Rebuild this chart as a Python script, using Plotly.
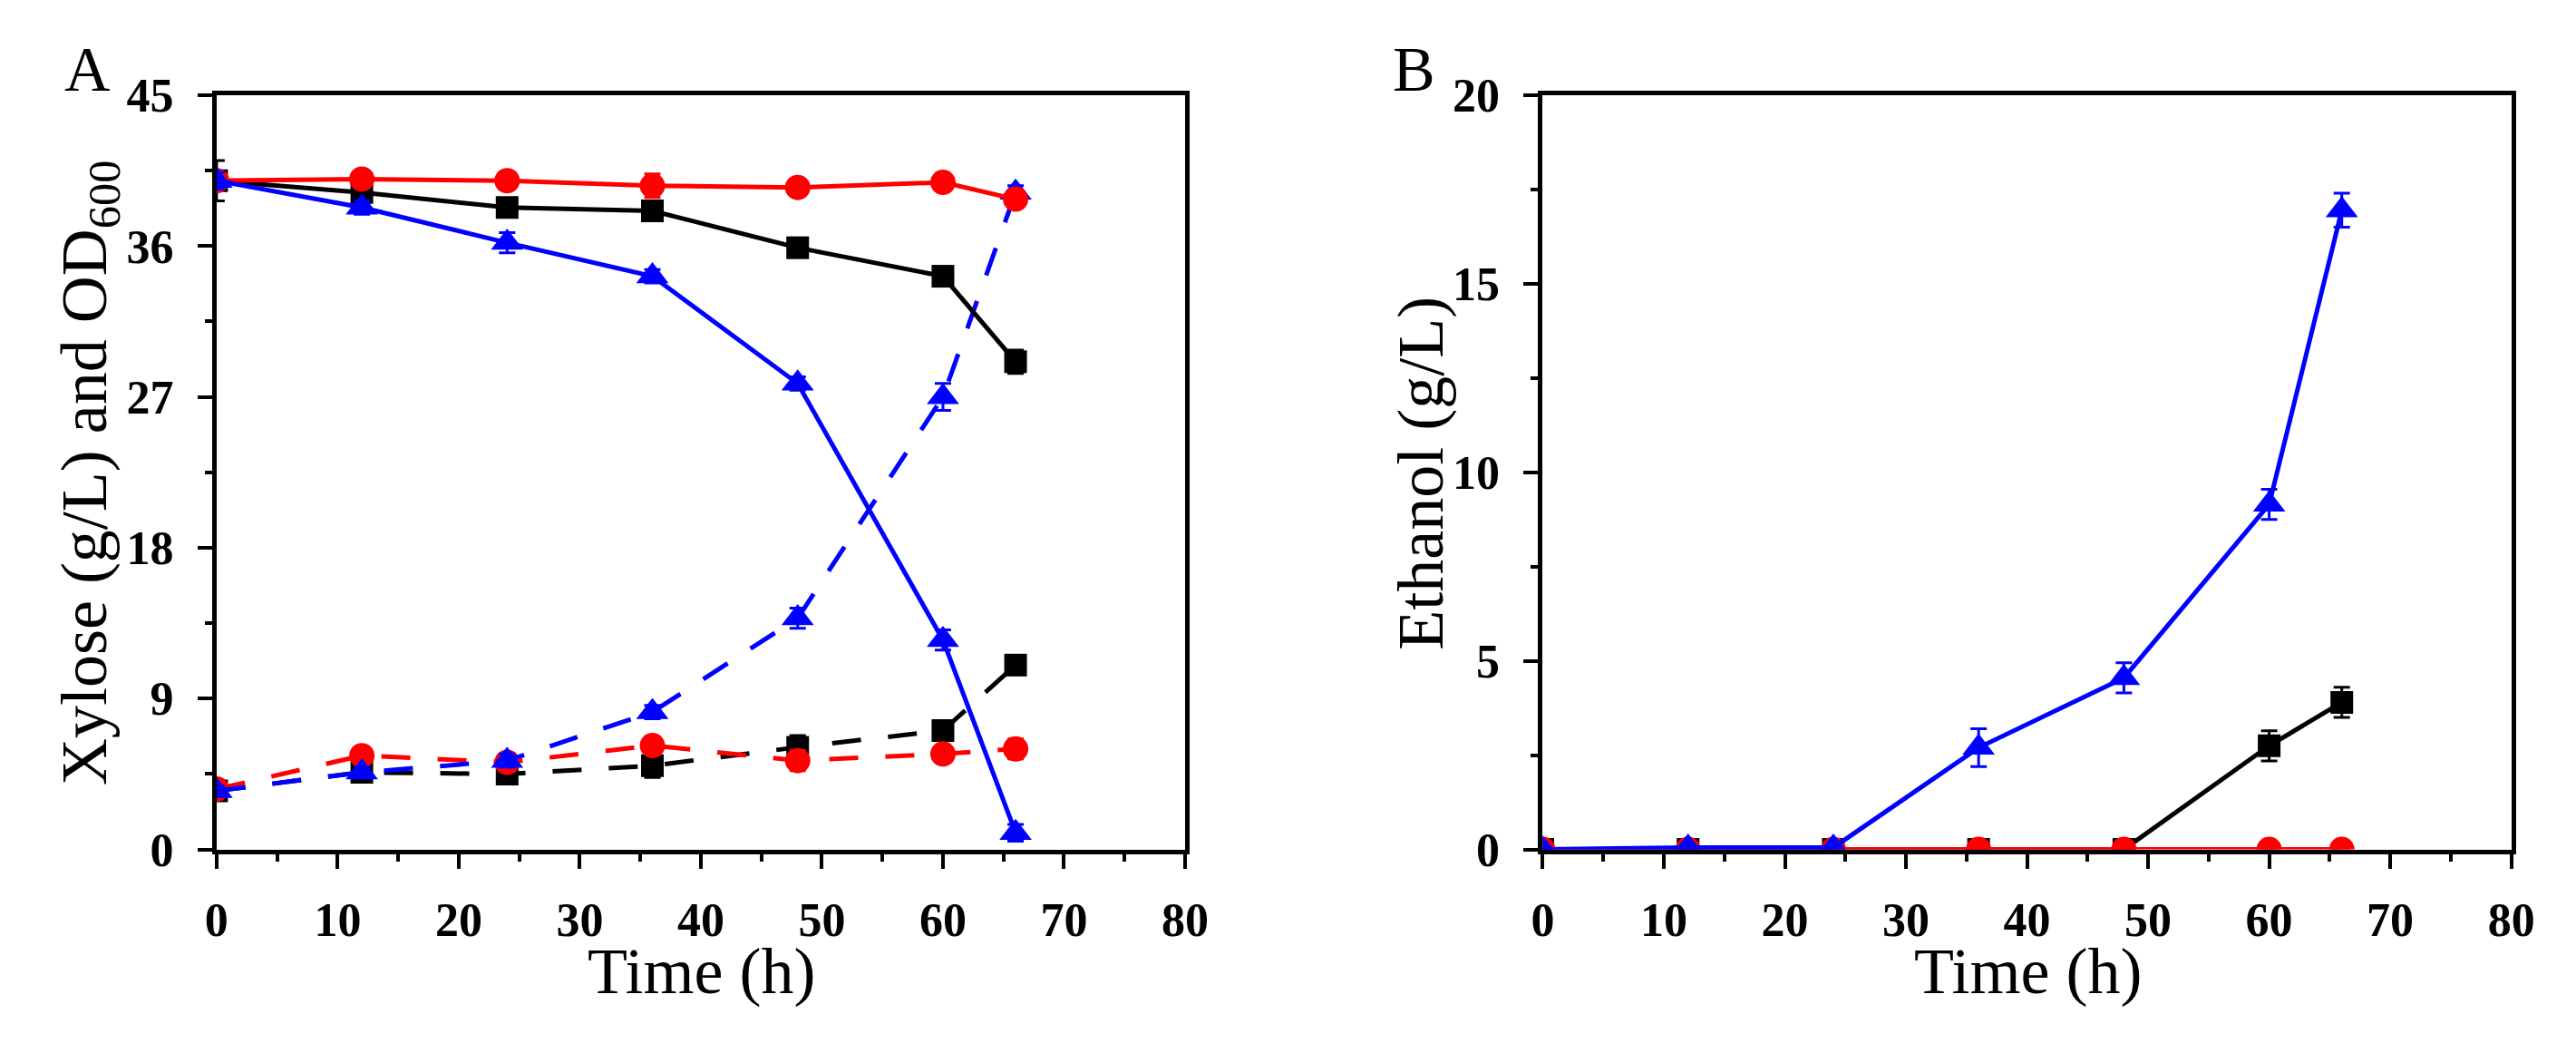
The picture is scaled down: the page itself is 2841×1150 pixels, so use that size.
import plotly.graph_objects as go

# ---------------- data ----------------
time_h = [0, 12, 24, 36, 48, 60, 66]

# Panel A: xylose (solid) and OD600 (dashed)
xyl_black = [39.9, 39.2, 38.3, 38.1, 35.9, 34.2, 29.1]
xyl_red = [39.9, 40.0, 39.9, 39.6, 39.5, 39.8, 38.8]
xyl_blue = [39.9, 38.3, 36.2, 34.2, 27.8, 12.5, 1.0]
xyl_black_err = [1.2, 0.5, 0.5, 0.6, 0.5, 0.5, 0.7]
xyl_red_err = [0.5, 0.4, 0.5, 0.7, 0.5, 0.5, 0.4]
xyl_blue_err = [0.5, 0.4, 0.6, 0.4, 0.4, 0.6, 0.5]

od_black = [3.5, 4.6, 4.5, 5.0, 6.1, 7.1, 11.0]
od_red = [3.6, 5.6, 5.2, 6.2, 5.3, 5.7, 6.0]
od_blue = [3.5, 4.6, 5.3, 8.2, 13.8, 27.0, 39.2]
od_black_err = [0.3, 0.3, 0.3, 0.7, 0.7, 0.3, 0.3]
od_red_err = [0.3, 0.3, 0.3, 0.5, 0.6, 0.5, 0.6]
od_blue_err = [0.3, 0.3, 0.4, 0.4, 0.6, 0.8, 0.4]

# Panel B: ethanol
eth_black = [0, 0, 0, 0, 0, 2.75, 3.9]
eth_red = [0, 0, 0, 0, 0, 0, 0]
eth_blue = [0, 0.05, 0.05, 2.7, 4.55, 9.15, 16.95]
eth_black_err = [0, 0, 0, 0, 0, 0.4, 0.4]
eth_red_err = [0, 0, 0, 0, 0, 0, 0]
eth_blue_err = [0, 0, 0, 0.5, 0.4, 0.4, 0.45]

xticks_vals = [0, 10, 20, 30, 40, 50, 60, 70, 80]
yticksA = [0, 9, 18, 27, 36, 45]
yticksB = [0, 5, 10, 15, 20]

# ---------------- styling ----------------
W, H = 2841, 1150
FONT = "Liberation Serif"
BLACK, RED, BLUE = "#000000", "#FF0000", "#0000FF"
DASH = "32px,30px"
LW = 5

styles = {
    "black": dict(color=BLACK, symbol="square", size=25),
    "red": dict(color=RED, symbol="circle", size=28),
    "blue": dict(color=BLUE, symbol="triangle-up", size=31),
}

fig = go.Figure()


def add(y, err, key, dash, xa, ya):
    st = styles[key]
    fig.add_trace(go.Scatter(
        x=time_h, y=y, mode="lines+markers",
        line=dict(color=st["color"], width=LW, dash=dash),
        marker=dict(color=st["color"], symbol=st["symbol"], size=st["size"]),
        error_y=dict(type="data", array=err, visible=True,
                     color=st["color"], thickness=3, width=9),
        xaxis=xa, yaxis=ya, showlegend=False,
    ))


# Panel A
add(od_black, od_black_err, "black", DASH, "x", "y")
add(od_red, od_red_err, "red", DASH, "x", "y")
add(od_blue, od_blue_err, "blue", DASH, "x", "y")
add(xyl_black, xyl_black_err, "black", "solid", "x", "y")
add(xyl_red, xyl_red_err, "red", "solid", "x", "y")
add(xyl_blue, xyl_blue_err, "blue", "solid", "x", "y")

# Panel B
add(eth_black, eth_black_err, "black", "solid", "x2", "y2")
add(eth_red, eth_red_err, "red", "solid", "x2", "y2")
add(eth_blue, eth_blue_err, "blue", "solid", "x2", "y2")

tickfont = dict(family=FONT, size=52, color=BLACK, weight="bold")

common_axis = dict(
    showline=True, linecolor=BLACK, linewidth=5, mirror=True,
    ticks="outside", ticklen=16, tickwidth=4, tickcolor=BLACK,
    showgrid=False, zeroline=False, tickfont=tickfont,
)


def minor(d):
    return dict(ticks="outside", ticklen=8, tickwidth=4, dtick=d, tickcolor=BLACK)


yb0, yb1 = 1 - 956 / H, 1 - 81 / H
fig.update_layout(
    width=W, height=H,
    margin=dict(l=0, r=0, t=0, b=0),
    paper_bgcolor="white", plot_bgcolor="white",
    xaxis=dict(domain=[229 / W, 1312 / W], range=[0, 80], tickvals=xticks_vals,
               minor=minor(5), ticklabelstandoff=12, anchor="y", **common_axis),
    yaxis=dict(domain=[yb0, yb1], range=[0, 45], tickvals=yticksA,
               minor=minor(4.5), ticklabelstandoff=16, anchor="x", **common_axis),
    xaxis2=dict(domain=[1712 / W, 2795 / W], range=[0, 80], tickvals=xticks_vals,
                minor=minor(5), ticklabelstandoff=12, anchor="y2", **common_axis),
    yaxis2=dict(domain=[yb0, yb1], range=[0, 20], tickvals=yticksB,
                minor=minor(2.5), ticklabelstandoff=16, anchor="x2", **common_axis),
)


def ann(text, px, py, angle=0, size=72):
    fig.add_annotation(text=text, xref="paper", yref="paper",
                       x=px / W, y=1 - py / H, xanchor="center", yanchor="middle",
                       showarrow=False, textangle=angle,
                       font=dict(family=FONT, size=size, color=BLACK))


ann("Time (h)", 771, 1097)
ann("Time (h)", 2254, 1097)
ann("Xylose (g/L) and OD<sub>600</sub>", 86, 519, angle=-90)
ann("Ethanol (g/L)", 1576, 519, angle=-90)
ann("A", 85, 51, size=70)
ann("B", 1568, 51, size=70)

fig.write_html(
    "out.html",
    config={"displayModeBar": False},
    post_script="document.body.style.margin='0';document.body.style.overflow='hidden';",
)
